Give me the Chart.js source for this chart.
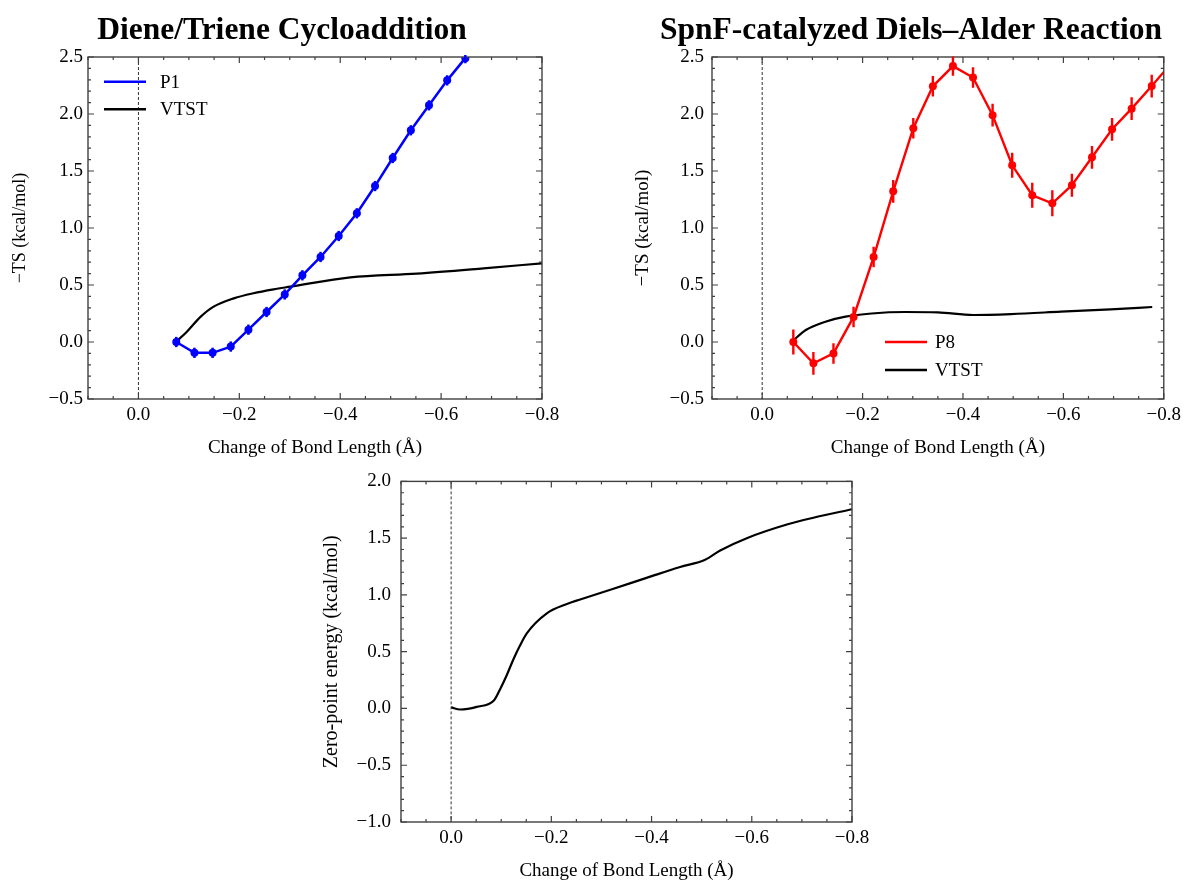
<!DOCTYPE html>
<html><head><meta charset="utf-8">
<script src="https://cdn.jsdelivr.net/npm/chart.js@4"></script>
<style>
html,body{margin:0;padding:0;background:#fff;width:1186px;height:880px;overflow:hidden}
canvas{position:absolute}
</style></head><body>
<canvas id="c1" width="590" height="460" style="left:0px;top:0px"></canvas>
<canvas id="c2" width="596" height="460" style="left:590px;top:0px"></canvas>
<canvas id="c3" width="600" height="420" style="left:300px;top:460px"></canvas>
<script>
// ---------- data ----------
const titleLeft = 'Diene/Triene Cycloaddition';
const titleRight = 'SpnF-catalyzed Diels\u2013Alder Reaction';
const xTitle = 'Change of Bond Length (\u00c5)';
const yTitleTS = '\u2212TS (kcal/mol)';
const yTitleZPE = 'Zero-point energy (kcal/mol)';

const xTickValues = [0.0, -0.2, -0.4, -0.6, -0.8];
const yTickValuesTop = [-0.5, 0.0, 0.5, 1.0, 1.5, 2.0, 2.5];
const yTickValuesBottom = [-1.0, -0.5, 0.0, 0.5, 1.0, 1.5, 2.0];

const p1X = [-0.075, -0.111, -0.147, -0.183, -0.218, -0.254, -0.290, -0.325, -0.361, -0.397, -0.433, -0.469, -0.504, -0.540, -0.576, -0.612, -0.648];
const p1Y = [0.00, -0.095, -0.095, -0.04, 0.108, 0.263, 0.417, 0.585, 0.746, 0.93, 1.129, 1.368, 1.614, 1.857, 2.076, 2.295, 2.49];
const p1Err = [0.045, 0.045, 0.045, 0.045, 0.045, 0.045, 0.045, 0.045, 0.045, 0.045, 0.045, 0.045, 0.045, 0.045, 0.045, 0.045, 0.045];

const vtst1X = [-0.075, -0.096, -0.123, -0.149, -0.189, -0.228, -0.268, -0.301, -0.42, -0.552, -0.684, -0.80];
const vtst1Y = [0.003, 0.09, 0.22, 0.31, 0.383, 0.428, 0.462, 0.485, 0.567, 0.60, 0.646, 0.69];

const p8X = [-0.062, -0.102, -0.142, -0.182, -0.222, -0.261, -0.301, -0.340, -0.380, -0.420, -0.459, -0.498, -0.538, -0.578, -0.617, -0.657, -0.697, -0.736, -0.776, -0.816];
const p8Y = [0.00, -0.187, -0.10, 0.22, 0.745, 1.322, 1.875, 2.243, 2.42, 2.32, 1.99, 1.55, 1.287, 1.217, 1.375, 1.62, 1.866, 2.047, 2.245, 2.45];
const p8Err = [0.11, 0.10, 0.09, 0.09, 0.09, 0.10, 0.09, 0.09, 0.085, 0.09, 0.10, 0.11, 0.11, 0.115, 0.10, 0.10, 0.10, 0.10, 0.10, 0.10];

const vtst8X = [-0.061, -0.087, -0.126, -0.166, -0.218, -0.285, -0.35, -0.42, -0.496, -0.595, -0.694, -0.777];
const vtst8Y = [0.01, 0.105, 0.178, 0.222, 0.25, 0.263, 0.26, 0.237, 0.245, 0.266, 0.287, 0.307];

const zpeX = [0.0, -0.018, -0.051, -0.0858, -0.0978, -0.111, -0.1244, -0.1377, -0.151, -0.191, -0.231, -0.2575, -0.324, -0.39, -0.457, -0.507, -0.537, -0.59, -0.67, -0.723, -0.80];
const zpeY = [0.01, -0.009, 0.014, 0.073, 0.17, 0.293, 0.434, 0.557, 0.662, 0.838, 0.92, 0.96, 1.055, 1.15, 1.246, 1.31, 1.392, 1.50, 1.62, 1.68, 1.755];

// ---------- helpers ----------
const SERIF = "'Liberation Serif', 'Times New Roman', serif";
const pts = (xs, ys) => xs.map((x, i) => ({x: x, y: ys[i]}));
const fmt = v => {
  const r = Math.round(v * 10) / 10;
  if (Math.abs(r) < 1e-9) return '0.0';
  return (r < 0 ? '\u2212' : '') + Math.abs(r).toFixed(1);
};

const frameTicks = {
  id: 'frameTicks',
  afterDatasetsDraw(chart, args, opts) {
    const {ctx, chartArea: a} = chart;
    const x = chart.scales.x, y = chart.scales.y;
    ctx.save();
    const x0 = x.getPixelForValue(0);
    ctx.strokeStyle = '#333'; ctx.lineWidth = 1; ctx.setLineDash([3, 2]);
    ctx.beginPath(); ctx.moveTo(x0, a.top); ctx.lineTo(x0, a.bottom); ctx.stroke();
    ctx.setLineDash([]);
    ctx.strokeStyle = '#404040'; ctx.lineWidth = 1.4;
    ctx.strokeRect(a.left, a.top, a.right - a.left, a.bottom - a.top);
    ctx.lineWidth = 1.2;
    ctx.beginPath();
    const isMajor = (v, arr) => arr.some(m => Math.abs(m - v) < 1e-6);
    for (let i = Math.ceil(x.min / 0.05 - 1e-6); i <= Math.floor(x.max / 0.05 + 1e-6); i++) {
      const v = i * 0.05, p = x.getPixelForValue(v);
      const len = isMajor(v, opts.xMajor) ? 6 : 3;
      ctx.moveTo(p, a.bottom); ctx.lineTo(p, a.bottom - len);
      ctx.moveTo(p, a.top); ctx.lineTo(p, a.top + len);
    }
    for (let i = Math.ceil(y.min / 0.1 - 1e-6); i <= Math.floor(y.max / 0.1 + 1e-6); i++) {
      const v = i * 0.1, p = y.getPixelForValue(v);
      const len = isMajor(v, opts.yMajor) ? 6 : 3;
      ctx.moveTo(a.left, p); ctx.lineTo(a.left + len, p);
      ctx.moveTo(a.right, p); ctx.lineTo(a.right - len, p);
    }
    ctx.stroke();
    ctx.restore();
  }
};

const errorBars = {
  id: 'errorBars',
  afterDatasetsDraw(chart, args, opts) {
    if (!opts || !opts.errors) return;
    const {ctx, chartArea: a} = chart;
    const x = chart.scales.x, y = chart.scales.y;
    const ds = chart.data.datasets[opts.datasetIndex];
    ctx.save();
    ctx.beginPath(); ctx.rect(a.left, a.top - 2, a.right - a.left, a.bottom - a.top + 4); ctx.clip();
    ctx.strokeStyle = opts.color; ctx.lineWidth = opts.width;
    ds.data.forEach((pt, i) => {
      const e = opts.errors[i];
      const px = x.getPixelForValue(pt.x);
      ctx.beginPath();
      ctx.moveTo(px, y.getPixelForValue(pt.y - e));
      ctx.lineTo(px, y.getPixelForValue(pt.y + e));
      ctx.stroke();
    });
    ctx.restore();
  }
};

const legendLines = {
  id: 'legendLines',
  afterDraw(chart, args, opts) {
    if (!opts || !opts.ys) return;
    const {ctx, chartArea: a} = chart;
    ctx.save();
    ctx.font = '19px ' + SERIF;
    ctx.textBaseline = 'middle'; ctx.textAlign = 'left';
    chart.data.datasets.forEach((ds, i) => {
      const yy = a.top + opts.ys[i];
      ctx.strokeStyle = ds.borderColor; ctx.lineWidth = 2.5;
      ctx.beginPath(); ctx.moveTo(a.left + opts.x, yy); ctx.lineTo(a.left + opts.x + opts.len, yy); ctx.stroke();
      ctx.fillStyle = '#000';
      ctx.fillText(ds.label, a.left + opts.textX, yy + 1);
    });
    ctx.restore();
  }
};

function makeChart(id, c) {
  return new Chart(document.getElementById(id), {
    type: 'line',
    data: {datasets: c.datasets},
    options: {
      responsive: false, animation: false, devicePixelRatio: 1,
      layout: {padding: c.padding},
      plugins: {
        legend: {display: false}, tooltip: {enabled: false},
        title: c.title ? {display: true, text: c.title, color: '#000',
          font: {family: SERIF, size: 31.5, weight: 'bold'}, padding: {top: 12, bottom: 7.2}} : {display: false},
        frameTicks: {xMajor: xTickValues, yMajor: c.yTicks},
        errorBars: c.errorBars || {},
        legendLines: c.legend || {}
      },
      scales: {
        x: {
          type: 'linear', reverse: true, min: -0.8, max: 0.1,
          grid: {display: false, drawTicks: false}, border: {display: false},
          afterBuildTicks: s => { s.ticks = xTickValues.map(v => ({value: v})); },
          afterFit: s => { s.height = c.xHeight; },
          ticks: {padding: 5, color: '#000', font: {family: SERIF, size: 19}, callback: v => fmt(v), maxRotation: 0, autoSkip: false},
          title: {display: true, text: xTitle, color: '#000', font: {family: SERIF, size: 19}, padding: {top: 0, bottom: c.xTitlePad}}
        },
        y: {
          type: 'linear', min: c.yMin, max: c.yMax,
          grid: {display: false, drawTicks: false}, border: {display: false},
          afterBuildTicks: s => { s.ticks = c.yTicks.map(v => ({value: v})); },
          afterFit: s => { s.width = c.yWidth; },
          ticks: {padding: c.yTickPad, color: '#000', font: {family: SERIF, size: 19}, callback: v => fmt(v), autoSkip: false},
          title: {display: true, text: c.yTitle, color: '#000', font: {family: SERIF, size: c.yTitleSize}, padding: {top: c.yTitlePad, bottom: 0}}
        }
      }
    },
    plugins: [frameTicks, errorBars, legendLines]
  });
}

makeChart('c1', {
  title: titleLeft,
  padding: {left: 22, right: 48, top: 0, bottom: 0},
  yWidth: 66, xHeight: 61, xTitlePad: 1, yTickPad: 5,
  yMin: -0.5, yMax: 2.5, yTicks: yTickValuesTop,
  yTitle: yTitleTS, yTitleSize: 18, yTitlePad: -12.8,
  datasets: [
    {label: 'P1', data: pts(p1X, p1Y), borderColor: '#0000ff', backgroundColor: '#0000ff', borderWidth: 2.5,
     pointRadius: 4, pointBorderWidth: 0, pointBackgroundColor: '#0000ff', tension: 0},
    {label: 'VTST', data: pts(vtst1X, vtst1Y), borderColor: '#000000', backgroundColor: '#000000', borderWidth: 2.2,
     pointRadius: 0, cubicInterpolationMode: 'monotone'}
  ],
  errorBars: {datasetIndex: 0, errors: p1Err, color: '#0000ff', width: 2.5},
  legend: {x: 16, len: 42, textX: 72, ys: [24.7, 52.3]}
});

makeChart('c2', {
  title: titleRight,
  padding: {left: 66, right: 20, top: 0, bottom: 0},
  yWidth: 56, xHeight: 61, xTitlePad: 1, yTickPad: 8,
  yMin: -0.5, yMax: 2.5, yTicks: yTickValuesTop,
  yTitle: yTitleTS, yTitleSize: 19, yTitlePad: -23.9,
  datasets: [
    {label: 'P8', data: pts(p8X, p8Y), borderColor: '#ff0000', backgroundColor: '#ff0000', borderWidth: 2.4,
     pointRadius: 4, pointBorderWidth: 0, pointBackgroundColor: '#ff0000', tension: 0},
    {label: 'VTST', data: pts(vtst8X, vtst8Y), borderColor: '#000000', backgroundColor: '#000000', borderWidth: 2.2,
     pointRadius: 0, cubicInterpolationMode: 'monotone'}
  ],
  errorBars: {datasetIndex: 0, errors: p8Err, color: '#ff0000', width: 2.4},
  legend: {x: 173, len: 42, textX: 223, ys: [285, 313]}
});

makeChart('c3', {
  title: null,
  padding: {left: 0, right: 48, top: 21, bottom: 0},
  yWidth: 101, xHeight: 58, xTitlePad: -2, yTickPad: 10,
  yMin: -1.0, yMax: 2.0, yTicks: yTickValuesBottom,
  yTitle: yTitleZPE, yTitleSize: 20, yTitlePad: 20,
  datasets: [
    {label: 'ZPE', data: pts(zpeX, zpeY), borderColor: '#000000', backgroundColor: '#000000', borderWidth: 2.2,
     pointRadius: 0, cubicInterpolationMode: 'monotone'}
  ]
});
</script>
</body></html>
